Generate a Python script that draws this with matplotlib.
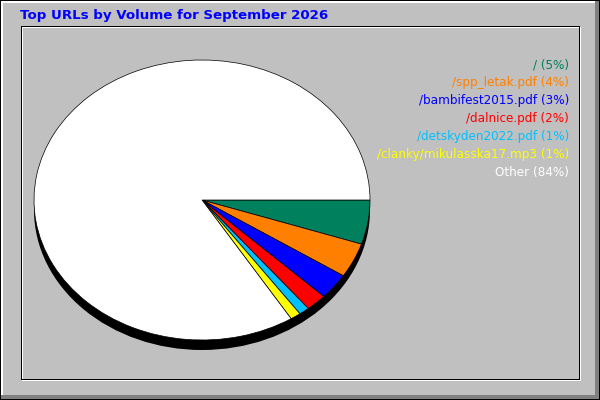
import matplotlib
matplotlib.use('Agg')
import matplotlib.pyplot as plt
from matplotlib.patches import Rectangle, Ellipse

# data
urls = ['/', '/spp_letak.pdf', '/bambifest2015.pdf', '/dalnice.pdf',
        '/detskyden2022.pdf', '/clanky/mikulasska17.mp3', 'Other']
pct_labels = [5, 4, 3, 2, 1, 1, 84]
shares = [5.1, 4.0, 3.0, 2.0, 1.0, 1.0, 83.9]
colors = ['#00805c', '#ff8000', '#0000ff', '#ff0000', '#00c0ff', '#ffff00', '#ffffff']
title = 'Top URLs by Volume for September 2026'

grey = '#c0c0c0'
dark = '#808080'

fig = plt.figure(figsize=(6, 4), dpi=100, facecolor=grey)

# frame, in pixel coords
ax0 = fig.add_axes([0, 0, 1, 1])
ax0.set_xlim(0, 600)
ax0.set_ylim(400, 0)
ax0.axis('off')
ax0.add_patch(Rectangle((0, 0), 600, 400, color='black', lw=0))
ax0.add_patch(Rectangle((1, 1), 598, 398, color=grey, lw=0))
ax0.add_patch(Rectangle((1, 1), 597, 2, color='white', lw=0))
ax0.add_patch(Rectangle((1, 1), 2, 397, color='white', lw=0))
ax0.add_patch(Rectangle((1, 395), 598, 4, color=dark, lw=0))
ax0.add_patch(Rectangle((595, 1), 4, 398, color=dark, lw=0))
# etched inner panel (1 px lines)
ax0.add_patch(Rectangle((21.5, 26.5), 558, 353, fill=False, ec='white', lw=0.72, antialiased=False))
ax0.add_patch(Rectangle((20.5, 25.5), 558, 353, fill=False, ec='black', lw=0.72, antialiased=False))

ax0.text(20, 19, title, color='#0000ff', fontsize=9.6, fontweight='bold',
         family='DejaVu Sans', ha='left', va='baseline')

# legend text, right aligned
for i, (u, p) in enumerate(zip(urls, pct_labels)):
    ax0.text(569, 68 + 18 * i, f'{u} ({p}%)', color=colors[i], fontsize=8.65,
             family='DejaVu Sans', ha='right', va='baseline')

# pie: unit circle mapped onto 168 x 140 px ellipse centred at (202, 200)
cx, cy, rx, ry, depth = 202, 200, 168, 140, 10
bottom = cy + ry + depth + 2
ax = fig.add_axes([(cx - rx) / 600, 1 - bottom / 400, 2 * rx / 600, (bottom - (cy - ry)) / 400])
wedges, _ = ax.pie(shares, colors=colors, startangle=0, counterclock=False, radius=1,
                   wedgeprops=dict(edgecolor='black', linewidth=0.5))
for w in wedges:
    w.set_zorder(3)
ax.add_patch(Ellipse((0, -depth / ry), 2, 2, color='black', lw=0, zorder=1))
ax.set_aspect('auto')
ax.set_xlim(-1, 1)
ax.set_ylim(-(bottom - cy) / ry, 1)
ax.axis('off')

fig.savefig('out.png', dpi=100, facecolor=grey)
